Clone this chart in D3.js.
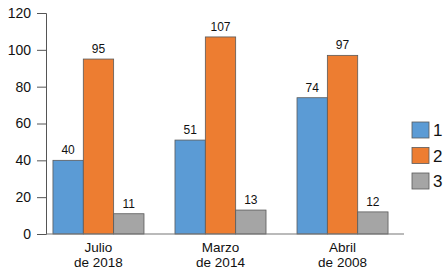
<!DOCTYPE html>
<html>
<head>
<meta charset="utf-8">
<script src="https://cdn.jsdelivr.net/npm/d3@7"></script>
<style>
  body { margin: 0; background: #fff; }
  svg { display: block; font-family: "Liberation Sans", Arial, sans-serif; }
</style>
</head>
<body>
<div id="chart"></div>
<script>
// Data
const categories = [["Julio", "de 2018"], ["Marzo", "de 2014"], ["Abril", "de 2008"]];
const seriesNames = ["1", "2", "3"];
const series1 = [40, 51, 74];
const series2 = [95, 107, 97];
const series3 = [11, 13, 12];
const yTicks = [0, 20, 40, 60, 80, 100, 120];
const colors = ["#5b9bd5", "#ed7d31", "#a5a5a5"];

const width = 448, height = 275;
const allSeries = [series1, series2, series3];

const svg = d3.select("#chart").append("svg")
    .attr("width", width)
    .attr("height", height);

// Scales
const y = d3.scaleLinear().domain([0, 120]).range([234, 13]);
const x0 = d3.scaleBand()
    .domain(categories.map((d, i) => i))
    .range([46, 395])
    .paddingInner(0.254)
    .paddingOuter(0.057);
const x1 = d3.scaleBand()
    .domain(seriesNames)
    .range([0, x0.bandwidth()]);

// Y axis
const yAxis = svg.append("g")
    .attr("transform", "translate(46,0)")
    .call(d3.axisLeft(y).tickValues(yTicks).tickSize(9).tickPadding(6));
yAxis.select(".domain").attr("stroke", "#555");
yAxis.selectAll(".tick line").attr("stroke", "#555");
yAxis.selectAll(".tick text")
    .style("font-size", "14px")
    .style("font-family", "inherit")
    .attr("fill", "#111");

// Bars
categories.forEach((cat, i) => {
    const g = svg.append("g").attr("transform", `translate(${x0(i)},0)`);
    allSeries.forEach((s, j) => {
        g.append("rect")
            .attr("x", x1(seriesNames[j]))
            .attr("y", y(s[i]))
            .attr("width", x1.bandwidth())
            .attr("height", y(0) - y(s[i]))
            .attr("fill", colors[j])
            .attr("stroke", "#5a5a5a")
            .attr("stroke-width", 0.8);
        g.append("text")
            .attr("x", x1(seriesNames[j]) + x1.bandwidth() / 2)
            .attr("y", y(s[i]) - 6)
            .attr("text-anchor", "middle")
            .style("font-size", "12px")
            .attr("fill", "#111")
            .text(s[i]);
    });
    // category label, two lines
    const cx = x0(i) + x0.bandwidth() / 2;
    svg.append("text")
        .attr("x", cx).attr("y", 252)
        .attr("text-anchor", "middle")
        .style("font-size", "13.5px")
        .attr("fill", "#111")
        .text(cat[0]);
    svg.append("text")
        .attr("x", cx).attr("y", 267)
        .attr("text-anchor", "middle")
        .style("font-size", "13.5px")
        .attr("fill", "#111")
        .text(cat[1]);
});

// Baseline
svg.append("line")
    .attr("x1", 46).attr("x2", 404)
    .attr("y1", y(0)).attr("y2", y(0))
    .attr("stroke", "#777")
    .attr("stroke-width", 1.2);

// Legend
const legend = svg.append("g").attr("transform", "translate(412,122)");
seriesNames.forEach((name, j) => {
    const row = legend.append("g").attr("transform", `translate(0,${j * 25.5})`);
    row.append("rect")
        .attr("width", 17).attr("height", 16)
        .attr("fill", colors[j])
        .attr("stroke", "#5a5a5a")
        .attr("stroke-width", 0.8);
    row.append("text")
        .attr("x", 21).attr("y", 8)
        .attr("dy", "0.36em")
        .style("font-size", "17px")
        .attr("fill", "#111")
        .text(name);
});
</script>
</body>
</html>
